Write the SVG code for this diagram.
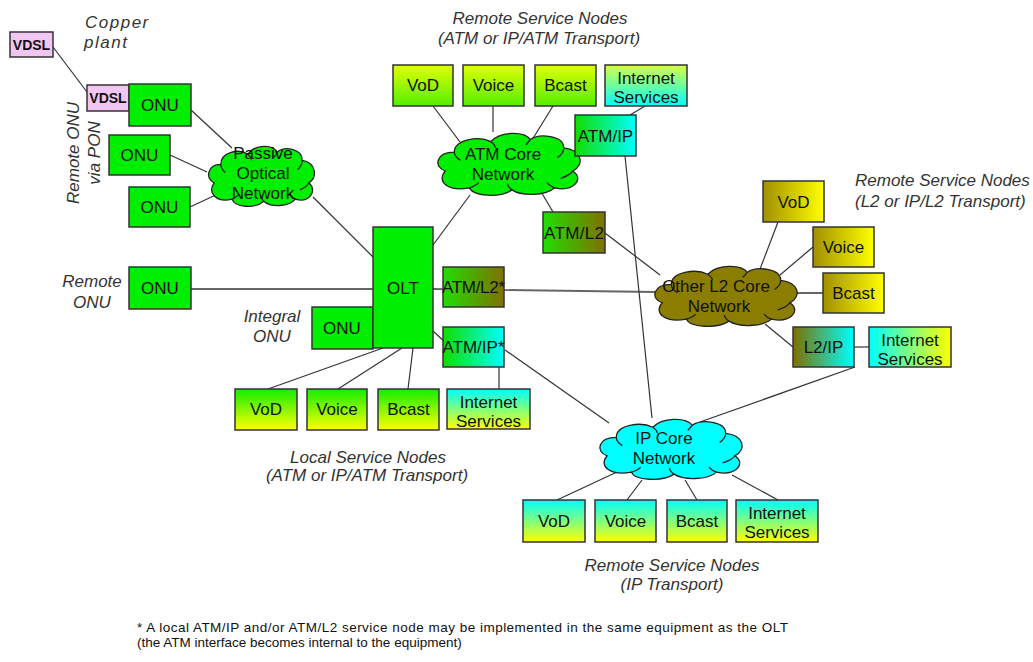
<svg xmlns="http://www.w3.org/2000/svg" xmlns:xlink="http://www.w3.org/1999/xlink" width="1033" height="662" viewBox="0 0 1033 662">
<style>
.box{stroke:#333;stroke-width:1.5}
.lbl{font-family:"Liberation Sans",Arial,sans-serif;font-size:17px;text-anchor:middle;fill:#111}
.it{font-family:"Liberation Sans",Arial,sans-serif;font-size:17px;font-style:italic;fill:#333}
.mid{text-anchor:middle}
.ln{stroke:#333;stroke-width:1.2;fill:none}
.gl{stroke:#666;stroke-width:1.8;fill:none}
.cl{stroke:#222;stroke-width:1.3;vector-effect:non-scaling-stroke}
.vd{font-family:"Liberation Sans",Arial,sans-serif;font-size:14px;font-weight:bold;text-anchor:middle;fill:#111}
.fn{font-family:"Liberation Sans",Arial,sans-serif;font-size:13.5px;fill:#111}
</style>
<defs>
<linearGradient id="gLocal" x1="0" y1="0" x2="0" y2="1"><stop offset="0" stop-color="#11ee00"/><stop offset="1" stop-color="#ffff00"/></linearGradient>
<linearGradient id="gTop" x1="0" y1="0" x2="0" y2="1"><stop offset="0" stop-color="#e0ff00"/><stop offset="1" stop-color="#55ee00"/></linearGradient>
<linearGradient id="gISTop" x1="0" y1="0" x2="0" y2="1"><stop offset="0" stop-color="#d8ff40"/><stop offset="1" stop-color="#00ffff"/></linearGradient>
<linearGradient id="gCY" x1="0" y1="0" x2="0" y2="1"><stop offset="0" stop-color="#00ffff"/><stop offset="1" stop-color="#ffff00"/></linearGradient>
<linearGradient id="gAtmIp" x1="0" y1="0" x2="1" y2="0"><stop offset="0" stop-color="#11dd00"/><stop offset="1" stop-color="#00ffff"/></linearGradient>
<linearGradient id="gAtmL2" x1="0" y1="0" x2="1" y2="0"><stop offset="0" stop-color="#22dd00"/><stop offset="1" stop-color="#807000"/></linearGradient>
<linearGradient id="gOlive" x1="0" y1="0" x2="1" y2="0"><stop offset="0" stop-color="#a09000"/><stop offset="1" stop-color="#ffff00"/></linearGradient>
<linearGradient id="gL2IP" x1="0" y1="0" x2="1" y2="0"><stop offset="0" stop-color="#807000"/><stop offset="1" stop-color="#00ffff"/></linearGradient>
<linearGradient id="gCYh" x1="0" y1="0" x2="1" y2="0"><stop offset="0" stop-color="#00ffff"/><stop offset="1" stop-color="#ffff00"/></linearGradient>
<path id="cloud" class="cl" d="M8,40 C0,36 2,22 14,22 C14,10 30,6 38,12 C44,2 60,2 64,10 C70,4 86,6 86,18 C98,20 100,34 92,40 C100,48 92,60 80,56 C74,64 58,64 52,58 C44,66 26,64 24,56 C10,60 2,50 8,40 Z"/>
<path id="cloudIn" class="cl" fill="none" d="M14,22 C14,26 16,28 18,30 M38,12 C40,14 41,16 41,18 M64,10 C63,12 62,14 61,15 M86,18 C86,22 84,25 82,27 M92,40 C90,44 86,46 84,47 M80,56 C78,55 76,53 75,51 M52,58 C50,56 49,54 49,52 M24,56 C26,55 29,53 30,51"/>
</defs>

<g id="connectors">
<line class="ln" x1="53" y1="47" x2="87" y2="92"/>
<line class="ln" x1="191" y1="110" x2="232" y2="148"/>
<line class="ln" x1="170" y1="155" x2="207" y2="172"/>
<line class="ln" x1="190" y1="207" x2="222" y2="192"/>
<line class="ln" x1="313" y1="197" x2="373" y2="257"/>
<line class="gl" x1="191" y1="289" x2="373" y2="289"/>
<line class="gl" x1="433" y1="289" x2="655" y2="292"/>
<line class="ln" x1="433" y1="331" x2="446" y2="343"/>
<line class="ln" x1="505" y1="350" x2="609" y2="423"/>
<line class="ln" x1="499" y1="367" x2="499" y2="389"/>
<line class="ln" x1="383" y1="348" x2="268" y2="389"/>
<line class="ln" x1="402" y1="348" x2="338" y2="389"/>
<line class="ln" x1="413" y1="348" x2="408" y2="389"/>
<line class="ln" x1="470" y1="195" x2="433" y2="245"/>
<line class="ln" x1="540" y1="190" x2="553" y2="212"/>
<line class="ln" x1="605" y1="233" x2="660" y2="275"/>
<line class="ln" x1="433" y1="106" x2="460" y2="142"/>
<line class="ln" x1="493" y1="106" x2="493" y2="132"/>
<line class="ln" x1="553" y1="106" x2="532" y2="140"/>
<line class="ln" x1="645" y1="106" x2="630" y2="115"/>
<line class="ln" x1="577" y1="158" x2="560" y2="170"/>
<line class="ln" x1="625" y1="156" x2="652" y2="418"/>
<line class="ln" x1="778" y1="222" x2="757" y2="277"/>
<line class="ln" x1="813" y1="247" x2="780" y2="275"/>
<line class="gl" x1="823" y1="293" x2="790" y2="293"/>
<line class="ln" x1="793" y1="347" x2="765" y2="324"/>
<line class="ln" x1="854" y1="347" x2="869" y2="347"/>
<line class="ln" x1="855" y1="367" x2="700" y2="422"/>
<line class="ln" x1="617" y1="472" x2="557" y2="500"/>
<line class="ln" x1="642" y1="480" x2="627" y2="500"/>
<line class="ln" x1="685" y1="480" x2="697" y2="500"/>
<line class="ln" x1="732" y1="475" x2="778" y2="500"/>
</g>

<g id="annotations">
<text class="it" x="85" y="28" font-size="18" letter-spacing="1.5">Copper</text>
<text class="it" x="84" y="48" font-size="18" letter-spacing="1.5">plant</text>
<g transform="translate(79,153) rotate(-90)"><text class="it mid" x="0" y="0">Remote ONU</text><text class="it mid" x="0" y="21">via PON</text></g>
<text class="it mid" x="92" y="287">Remote</text>
<text class="it mid" x="92" y="308">ONU</text>
<text class="it mid" x="272" y="322">Integral</text>
<text class="it mid" x="272" y="342">ONU</text>
<text class="it mid" x="540" y="24">Remote Service Nodes</text>
<text class="it mid" x="539" y="44">(ATM or IP/ATM Transport)</text>
<text class="it" x="855" y="186">Remote Service Nodes</text>
<text class="it" x="855" y="207">(L2 or IP/L2 Transport)</text>
<text class="it mid" x="368" y="463">Local Service Nodes</text>
<text class="it mid" x="367" y="481">(ATM or IP/ATM Transport)</text>
<text class="it mid" x="672" y="571">Remote Service Nodes</text>
<text class="it mid" x="672" y="590">(IP Transport)</text>
<text class="fn" x="137" y="632" textLength="651">* A local ATM/IP and/or ATM/L2 service node may be implemented in the same equipment as the OLT</text>
<text class="fn" x="137" y="647">(the ATM interface becomes internal to the equipment)</text>
</g>

<g id="vdsl1"><rect class="box" x="10" y="32" width="43" height="25" fill="#f2c6f2"/><text class="vd" x="31.5" y="50">VDSL</text></g>
<g id="vdsl2"><rect class="box" x="87" y="85" width="42" height="26" fill="#f2c6f2"/><text class="vd" x="108" y="103">VDSL</text></g>
<g id="onu1"><rect class="box" x="129" y="84" width="62" height="42" fill="#00ee00"/><text class="lbl" x="160" y="111">ONU</text></g>
<g id="onu2"><rect class="box" x="109" y="135" width="61" height="40" fill="#00ee00"/><text class="lbl" x="139.5" y="161">ONU</text></g>
<g id="onu3"><rect class="box" x="129" y="187" width="61" height="40" fill="#00ee00"/><text class="lbl" x="159.5" y="213">ONU</text></g>
<g id="onu-remote"><rect class="box" x="129" y="267" width="62" height="42" fill="#00ee00"/><text class="lbl" x="160" y="294">ONU</text></g>
<g id="onu-integral"><rect class="box" x="312" y="307" width="61" height="42" fill="#00ee00"/><text class="lbl" x="342" y="334">ONU</text></g>
<g id="olt"><rect class="box" x="373" y="227" width="60" height="121" fill="#00ee00"/><text class="lbl" x="403" y="294">OLT</text></g>

<g id="pon"><use xlink:href="#cloud" fill="#00ee00" transform="translate(205,142) scale(1.13,1.02)"/><use xlink:href="#cloudIn" transform="translate(205,142) scale(1.13,1.02)"/>
<text class="lbl" x="263" y="159">Passive</text><text class="lbl" x="263" y="179">Optical</text><text class="lbl" x="263" y="199">Network</text></g>

<g id="atm-core"><use xlink:href="#cloud" fill="#00ee00" transform="translate(433,129) scale(1.52,1.05)"/><use xlink:href="#cloudIn" transform="translate(433,129) scale(1.52,1.05)"/>
<text class="lbl" x="503" y="160">ATM Core</text><text class="lbl" x="503" y="180">Network</text></g>

<g id="l2-core"><use xlink:href="#cloud" fill="#8b7d00" transform="translate(650,262) scale(1.52,1.02)"/><use xlink:href="#cloudIn" transform="translate(650,262) scale(1.52,1.02)"/>
<text class="lbl" x="716" y="292">Other L2 Core</text><text class="lbl" x="719" y="312">Network</text></g>

<g id="ip-core"><use xlink:href="#cloud" fill="#00ffff" transform="translate(595,415) scale(1.52,1.02)"/><use xlink:href="#cloudIn" transform="translate(595,415) scale(1.52,1.02)"/>
<text class="lbl" x="664" y="444">IP Core</text><text class="lbl" x="664" y="464">Network</text></g>

<g id="atm-l2-local"><rect class="box" x="443" y="267" width="61" height="40" fill="url(#gAtmL2)"/><text class="lbl" x="473.5" y="293" textLength="63">ATM/L2*</text></g>
<g id="atm-ip-local"><rect class="box" x="443" y="327" width="61" height="40" fill="url(#gAtmIp)"/><text class="lbl" x="473.5" y="353" textLength="62">ATM/IP*</text></g>
<g id="local-vod"><rect class="box" x="235" y="389" width="62" height="41" fill="url(#gLocal)"/><text class="lbl" x="266" y="415">VoD</text></g>
<g id="local-voice"><rect class="box" x="307" y="389" width="60" height="41" fill="url(#gLocal)"/><text class="lbl" x="337" y="415">Voice</text></g>
<g id="local-bcast"><rect class="box" x="378" y="389" width="61" height="41" fill="url(#gLocal)"/><text class="lbl" x="408.5" y="415">Bcast</text></g>
<g id="local-internet"><rect class="box" x="447" y="389" width="83" height="40" fill="url(#gCY)"/><text class="lbl" x="488.5" y="408">Internet</text><text class="lbl" x="488.5" y="427">Services</text></g>

<g id="atm-vod"><rect class="box" x="393" y="65" width="60" height="41" fill="url(#gTop)"/><text class="lbl" x="423" y="91">VoD</text></g>
<g id="atm-voice"><rect class="box" x="463" y="65" width="61" height="41" fill="url(#gTop)"/><text class="lbl" x="493.5" y="91">Voice</text></g>
<g id="atm-bcast"><rect class="box" x="535" y="65" width="61" height="41" fill="url(#gTop)"/><text class="lbl" x="565.5" y="91">Bcast</text></g>
<g id="atm-internet"><rect class="box" x="605" y="65" width="82" height="41" fill="url(#gISTop)"/><text class="lbl" x="646" y="84">Internet</text><text class="lbl" x="646" y="103">Services</text></g>
<g id="atm-ip"><rect class="box" x="575" y="115" width="61" height="41" fill="url(#gAtmIp)"/><text class="lbl" x="605.5" y="142">ATM/IP</text></g>
<g id="atm-l2"><rect class="box" x="543" y="212" width="62" height="41" fill="url(#gAtmL2)"/><text class="lbl" x="574" y="239" textLength="60">ATM/L2</text></g>

<g id="l2-vod"><rect class="box" x="763" y="181" width="61" height="41" fill="url(#gOlive)"/><text class="lbl" x="793.5" y="208">VoD</text></g>
<g id="l2-voice"><rect class="box" x="813" y="227" width="61" height="40" fill="url(#gOlive)"/><text class="lbl" x="843.5" y="253">Voice</text></g>
<g id="l2-bcast"><rect class="box" x="823" y="273" width="61" height="40" fill="url(#gOlive)"/><text class="lbl" x="853.5" y="299">Bcast</text></g>
<g id="l2-ip"><rect class="box" x="793" y="327" width="61" height="40" fill="url(#gL2IP)"/><text class="lbl" x="823.5" y="353">L2/IP</text></g>
<g id="l2-internet"><rect class="box" x="869" y="327" width="82" height="40" fill="url(#gCYh)"/><text class="lbl" x="910" y="346">Internet</text><text class="lbl" x="910" y="365">Services</text></g>

<g id="ip-vod"><rect class="box" x="523" y="500" width="62" height="42" fill="url(#gCY)"/><text class="lbl" x="554" y="527">VoD</text></g>
<g id="ip-voice"><rect class="box" x="595" y="500" width="61" height="42" fill="url(#gCY)"/><text class="lbl" x="625.5" y="527">Voice</text></g>
<g id="ip-bcast"><rect class="box" x="667" y="500" width="60" height="42" fill="url(#gCY)"/><text class="lbl" x="697" y="527">Bcast</text></g>
<g id="ip-internet"><rect class="box" x="736" y="500" width="82" height="42" fill="url(#gCY)"/><text class="lbl" x="777" y="538" dy="-19">Internet</text><text class="lbl" x="777" y="538">Services</text></g>
</svg>
